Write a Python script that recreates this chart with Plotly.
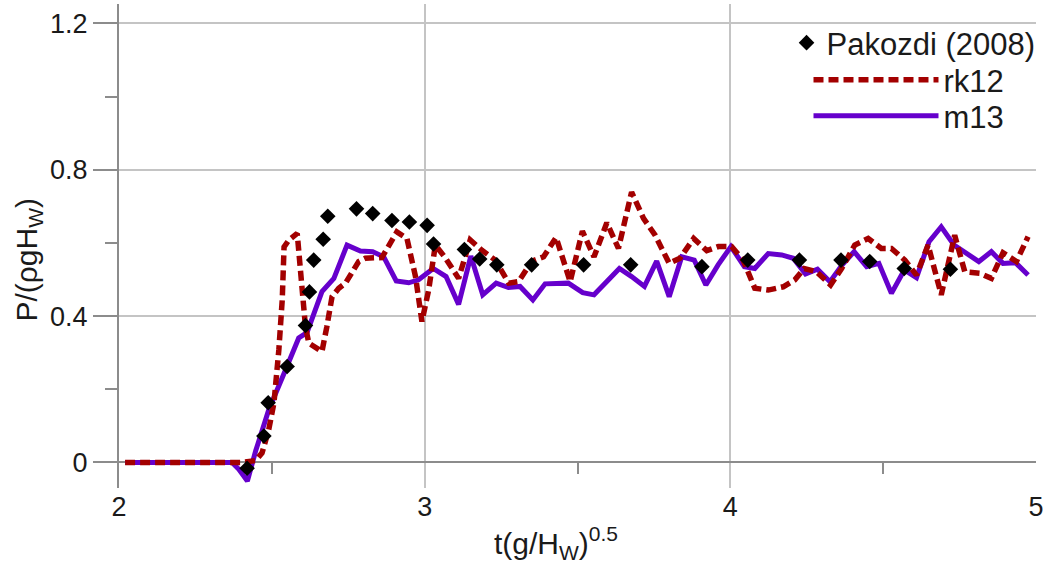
import plotly.graph_objects as go

# ---------------- data ----------------
pak_x = [2.419, 2.474, 2.488, 2.55, 2.61, 2.623, 2.637, 2.668, 2.683, 2.777, 2.83, 2.893,
         2.95, 3.008, 3.029, 3.13, 3.18, 3.236, 3.35, 3.52, 3.674, 3.907, 4.057, 4.226,
         4.362, 4.456, 4.569, 4.72]
pak_y = [-0.016, 0.072, 0.163, 0.262, 0.374, 0.466, 0.553, 0.61, 0.673, 0.693, 0.68, 0.661,
         0.657, 0.648, 0.597, 0.582, 0.556, 0.54, 0.54, 0.54, 0.54, 0.535, 0.553, 0.553,
         0.553, 0.549, 0.53, 0.528]

rk12_x = [2.02, 2.40, 2.447, 2.468, 2.49, 2.507, 2.523, 2.534, 2.54, 2.556, 2.583, 2.594,
          2.61, 2.621, 2.664, 2.68, 2.697, 2.719, 2.741, 2.784, 2.806, 2.86, 2.909, 2.942,
          2.97, 2.991, 3.013, 3.035, 3.067, 3.111, 3.149, 3.187, 3.231, 3.275, 3.307, 3.351,
          3.389, 3.43, 3.476, 3.516, 3.554, 3.596, 3.634, 3.677, 3.716, 3.754, 3.8, 3.835,
          3.88, 3.923, 3.961, 4.004, 4.042, 4.08, 4.124, 4.173, 4.211, 4.242, 4.282, 4.328,
          4.364, 4.407, 4.451, 4.494, 4.527, 4.571, 4.609, 4.647, 4.69, 4.734, 4.767, 4.816,
          4.854, 4.892, 4.936, 4.974]
rk12_y = [0, 0, 0.005, 0.026, 0.09, 0.163, 0.308, 0.444, 0.589, 0.608, 0.626, 0.517,
          0.371, 0.326, 0.303, 0.371, 0.453, 0.476, 0.49, 0.549, 0.558, 0.56, 0.63, 0.612,
          0.508, 0.385, 0.471, 0.594, 0.56, 0.503, 0.608, 0.58, 0.553, 0.49, 0.494, 0.55,
          0.562, 0.615, 0.494, 0.632, 0.562, 0.655, 0.585, 0.739, 0.667, 0.621, 0.544, 0.558,
          0.612, 0.579, 0.59, 0.59, 0.553, 0.476, 0.471, 0.48, 0.499, 0.53, 0.521, 0.485,
          0.53, 0.594, 0.612, 0.585, 0.585, 0.553, 0.512, 0.594, 0.458, 0.621, 0.521, 0.517,
          0.503, 0.573, 0.549, 0.617]

m13_x = [2.02, 2.37, 2.392, 2.42, 2.447, 2.49, 2.545, 2.588, 2.615, 2.664, 2.703, 2.746,
         2.79, 2.83, 2.866, 2.907, 2.948, 2.98, 3.028, 3.07, 3.111, 3.151, 3.19, 3.234,
         3.274, 3.312, 3.354, 3.394, 3.47, 3.517, 3.554, 3.637, 3.677, 3.719, 3.759, 3.8,
         3.841, 3.882, 3.92, 3.96, 4.002, 4.046, 4.08, 4.124, 4.168, 4.206, 4.246, 4.285,
         4.326, 4.366, 4.405, 4.446, 4.486, 4.527, 4.569, 4.609, 4.65, 4.69, 4.732, 4.772,
         4.813, 4.854, 4.892, 4.933, 4.974]
m13_y = [0, 0, -0.019, -0.051, 0.031, 0.144, 0.253, 0.34, 0.355, 0.467, 0.503, 0.594,
         0.578, 0.576, 0.562, 0.496, 0.491, 0.499, 0.53, 0.508, 0.432, 0.564, 0.458, 0.49,
         0.478, 0.481, 0.444, 0.488, 0.49, 0.464, 0.458, 0.53, 0.508, 0.481, 0.55, 0.453,
         0.562, 0.553, 0.485, 0.54, 0.59, 0.535, 0.53, 0.571, 0.567, 0.558, 0.515, 0.528,
         0.494, 0.54, 0.576, 0.535, 0.544, 0.462, 0.526, 0.505, 0.603, 0.644, 0.594, 0.573,
         0.549, 0.576, 0.544, 0.546, 0.512]

x_major = [2, 3, 4, 5]
x_minor = [2.5, 3.5, 4.5]
y_major = [0, 0.4, 0.8, 1.2]
y_major_text = ["0", "0.4", "0.8", "1.2"]

X_RANGE = [2, 5]
Y_RANGE = [-0.07, 1.253]

FONT = "Liberation Sans, Arial, sans-serif"
TXT = "#1a1a1a"
GRID = "#c4c4c4"
AXIS = "#8c8c8c"

PLOT_L, PLOT_W = 119, 919
PLOT_B, PLOT_H = 488, 484


def px_x(p):
    return (p - PLOT_L) / PLOT_W


def px_y(p):
    return (PLOT_B - p) / PLOT_H


fig = go.Figure()

fig.add_trace(go.Scatter(
    x=m13_x, y=m13_y, mode="lines", name="m13",
    line=dict(color="#6600cc", width=5),
    legend="legend3"))

fig.add_trace(go.Scatter(
    x=rk12_x, y=rk12_y, mode="lines", name="rk12",
    line=dict(color="#a30000", width=5.5, dash="10px,5px"),
    legend="legend2"))

fig.add_trace(go.Scatter(
    x=pak_x, y=pak_y, mode="markers", name="Pakozdi (2008)",
    marker=dict(symbol="diamond", color="black", size=12),
    legend="legend"))

# invisible trace carrying the small tick axis that sits on y = 0
fig.add_trace(go.Scatter(x=[None], y=[None], xaxis="x2", showlegend=False,
                         hoverinfo="skip"))

zero_pos = (0 - Y_RANGE[0]) / (Y_RANGE[1] - Y_RANGE[0])

leg_font = dict(size=31, family=FONT, color=TXT)

fig.update_layout(
    width=1048, height=565,
    margin=dict(l=PLOT_L, r=1048 - PLOT_L - PLOT_W, t=4, b=565 - PLOT_B),
    paper_bgcolor="white", plot_bgcolor="white",
    font=dict(family=FONT, color=TXT, size=27),
    xaxis=dict(
        range=X_RANGE, tickmode="array", tickvals=x_major,
        ticktext=[str(v) for v in x_major],
        showgrid=True, gridcolor=GRID, gridwidth=1.5,
        zeroline=False, showline=False,
        ticks="",
        tickfont=dict(size=27, family=FONT, color=TXT),
    ),
    xaxis2=dict(
        overlaying="x", anchor="free", position=zero_pos, side="bottom",
        range=X_RANGE, tickmode="array", tickvals=x_minor,
        ticks="outside", ticklen=11, tickwidth=1.5, tickcolor=AXIS,
        showticklabels=False, showgrid=False, zeroline=False, showline=False,
    ),
    yaxis=dict(
        range=Y_RANGE, tickmode="array", tickvals=y_major, ticktext=y_major_text,
        showgrid=True, gridcolor=GRID, gridwidth=1.5,
        zeroline=True, zerolinecolor=AXIS, zerolinewidth=2,
        showline=True, linecolor=AXIS, linewidth=2,
        ticks="outside", ticklen=24, tickwidth=1.5, tickcolor=AXIS,
        minor=dict(dtick=0.2, tick0=0, ticks="outside", ticklen=12,
                   tickwidth=1.5, tickcolor=AXIS, showgrid=False),
        tickfont=dict(size=27, family=FONT, color=TXT),
    ),
    legend=dict(
        x=px_x(788), y=px_y(16), xanchor="left", yanchor="top",
        bgcolor="rgba(0,0,0,0)", font=leg_font,
    ),
    legend2=dict(
        x=px_x(810), y=px_y(53), xanchor="left", yanchor="top",
        bgcolor="rgba(0,0,0,0)", font=leg_font, itemwidth=125,
    ),
    legend3=dict(
        x=px_x(810), y=px_y(89), xanchor="left", yanchor="top",
        bgcolor="rgba(0,0,0,0)", font=leg_font, itemwidth=125,
    ),
    showlegend=True,
)

fig.add_annotation(
    text="P/(&#961;gH<sub>W</sub>)", textangle=-90,
    xref="paper", yref="y", x=px_x(28), y=0.555,
    xanchor="center", yanchor="middle", showarrow=False,
    font=dict(size=30, family=FONT, color=TXT),
)

fig.add_annotation(
    text="t(g/H<sub>W</sub>)<sup>0.5</sup>",
    xref="x", yref="paper", x=3.43, y=px_y(543),
    xanchor="center", yanchor="middle", showarrow=False,
    font=dict(size=30, family=FONT, color=TXT),
)

fig.write_html("out.html")
